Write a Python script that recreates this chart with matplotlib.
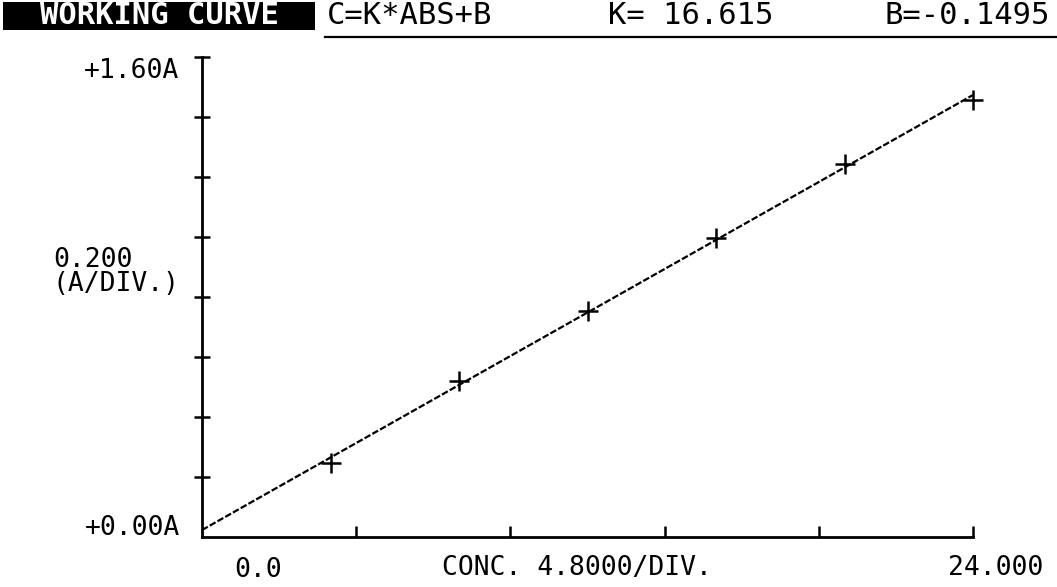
import numpy as np
import matplotlib
matplotlib.use("Agg")
import matplotlib.pyplot as plt
from matplotlib.patches import Rectangle
from matplotlib.lines import Line2D

# calibration data
conc = [4.0, 8.0, 12.0, 16.0, 20.0, 24.0]
absorb = [0.247, 0.520, 0.753, 0.996, 1.242, 1.457]

x_ticks = [4.8, 9.6, 14.4, 19.2, 24.0]
y_ticks = [0.2, 0.4, 0.6, 0.8, 1.0, 1.2, 1.4, 1.6]

W, H = 1057, 587
def px(x):
    return x / W
def py(y):
    return 1 - y / H

mono = "DejaVu Sans Mono"
fs = 19

fig = plt.figure(figsize=(W / 100, H / 100), dpi=100)
ax = fig.add_axes([px(202), py(537), 771 / W, 480 / H])

# working curve: least squares line through the standards
slope, icpt = np.polyfit(conc, absorb, 1)
c_line = np.array([0.0, 24.0])
ax.plot(c_line, slope * c_line + icpt, color="k", lw=1.6, ls=(0, (3, 1)), clip_on=False)
ax.plot(conc, absorb, ls="none", marker="+", ms=15, mew=1.8, color="k", clip_on=False)

ax.set_xlim(0, 24)
ax.set_ylim(0, 1.6)
for s in ["top", "right"]:
    ax.spines[s].set_visible(False)
ax.spines["left"].set_linewidth(2)
ax.spines["bottom"].set_linewidth(2)
ax.set_xticks(x_ticks)
ax.set_yticks(y_ticks)
ax.tick_params(axis="x", direction="in", length=8, width=1.8, labelbottom=False)
ax.tick_params(axis="y", direction="inout", length=11, width=1.8, labelleft=False)

# axis annotations
fig.text(px(179), py(71), "+1.60A", ha="right", va="center", fontsize=fs, family=mono)
fig.text(px(180), py(528), "+0.00A", ha="right", va="center", fontsize=fs, family=mono)
fig.text(px(180), py(272), "0.200\n(A/DIV.)", ha="right", va="center", ma="left",
         fontsize=fs, family=mono, linespacing=0.9)
fig.text(px(258), py(570), "0.0", ha="center", va="center", fontsize=fs, family=mono)
fig.text(px(577), py(568), "CONC. 4.8000/DIV.", ha="center", va="center",
         fontsize=fs, family=mono)
fig.text(px(1043), py(568), "24.000", ha="right", va="center", fontsize=fs, family=mono)

# header
fig.patches.append(Rectangle((px(3), py(30)), 312 / W, 28 / H, transform=fig.transFigure,
                             facecolor="k", edgecolor="none"))
fig.text(px(159), py(16), "WORKING CURVE", ha="center", va="center", color="white",
         fontsize=22, family=mono, fontweight="bold")
fig.text(px(327), py(16), "C=K*ABS+B", ha="left", va="center", fontsize=22, family=mono)
fig.text(px(608), py(16), "K= 16.615", ha="left", va="center", fontsize=22, family=mono)
fig.text(px(1050), py(16), "B=-0.1495", ha="right", va="center", fontsize=22, family=mono)
fig.lines.append(Line2D([px(325), px(1057)], [py(37), py(37)], transform=fig.transFigure,
                        color="k", lw=1.6))

fig.savefig("out.png", dpi=100)
